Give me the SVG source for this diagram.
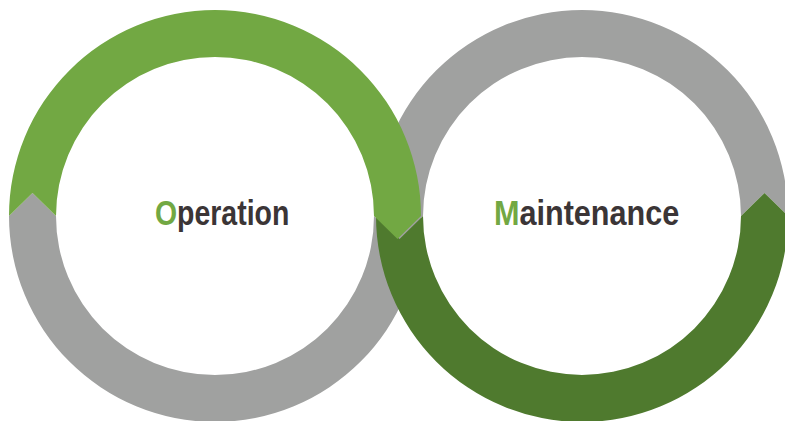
<svg xmlns="http://www.w3.org/2000/svg" width="785" height="421" viewBox="0 0 785 421">
<style>
.gray{fill:#A0A1A0}
.lg{fill:#72A843}
.dg{fill:#4F7A2E}
.lbl{font-family:"Liberation Sans",Arial,sans-serif;font-weight:bold;font-size:36px;fill:#3B3536}
.cap{fill:#72A843}
</style>
<rect width="785" height="421" fill="#FFFFFF"/>
<g id="connectors">
<path id="op-bottom" class="gray" d="M421,216 A206,206 0 0 1 9,216 L32.5,193 L56,216 A159,159 0 0 0 374,216 L397.5,239 Z"/>
<path id="mt-top" class="gray" d="M376,216 A206,206 0 0 1 788,216 L764.5,193 L741,216 A159,159 0 0 0 423,216 L399.5,239 Z"/>
<path id="mt-bottom" class="dg" d="M788,216 A206,206 0 0 1 376,216 L399.5,239 L423,216 A159,159 0 0 0 741,216 L764.5,193 Z"/>
<path id="op-top" class="lg" d="M9,216 A206,206 0 0 1 421,216 L397.5,239 L374,216 A159,159 0 0 0 56,216 L32.5,193 Z"/>
</g>
<g id="operation">
<text class="lbl" transform="translate(155,225) scale(0.79,1)" x="0" y="0"><tspan class="cap">O</tspan>peration</text>
</g>
<g id="maintenance">
<text class="lbl" transform="translate(494,225) scale(0.85,1)" x="0" y="0"><tspan class="cap">M</tspan>aintenance</text>
</g>
</svg>
